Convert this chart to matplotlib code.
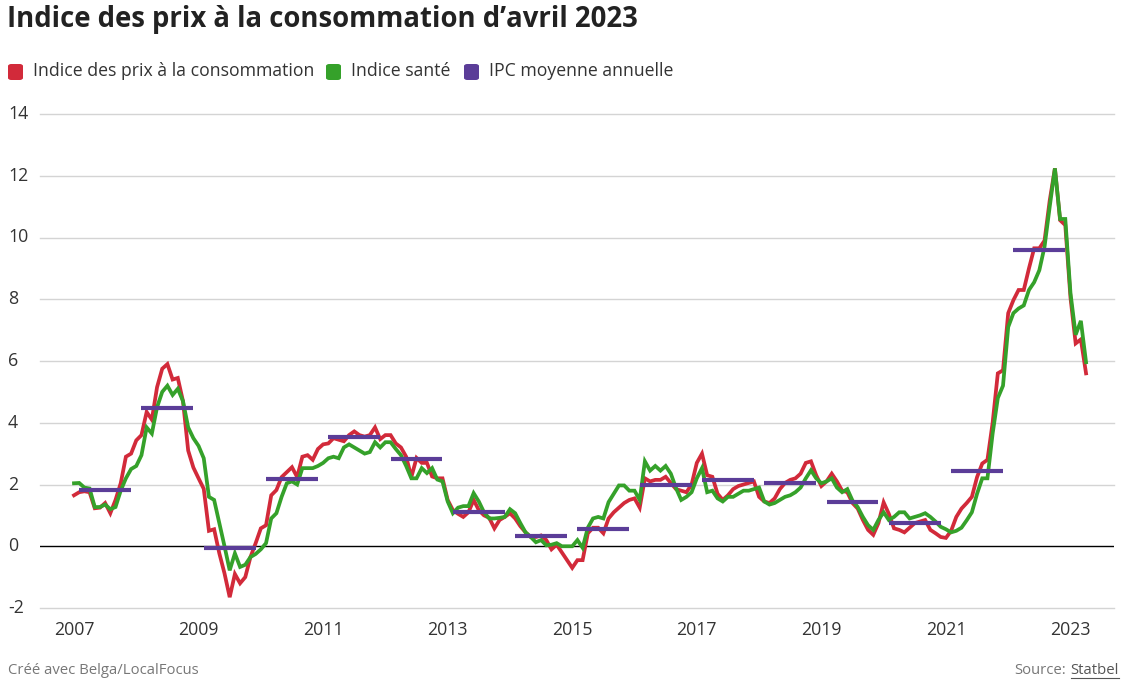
import numpy as np
import matplotlib
matplotlib.use("Agg")
import matplotlib.pyplot as plt
from matplotlib.patches import FancyBboxPatch
from matplotlib.lines import Line2D

plt.rcParams['font.family'] = ['Open Sans', 'DejaVu Sans']

# monthly year-on-year change (%), Jan 2007 .. Apr 2023
cpi = [
    1.65, 1.75, 1.78, 1.75, 1.23, 1.25, 1.4, 1.07, 1.5, 2.04, 2.9, 3.0,        # 2007
    3.43, 3.6, 4.35, 4.1, 5.15, 5.75, 5.9, 5.4, 5.45, 4.7, 3.1, 2.55,          # 2008
    2.2, 1.86, 0.5, 0.55, -0.23, -0.88, -1.65, -0.9, -1.2, -1.0, -0.35, 0.1,   # 2009
    0.58, 0.68, 1.65, 1.82, 2.24, 2.4, 2.56, 2.24, 2.9, 2.95, 2.8, 3.15,       # 2010
    3.3, 3.33, 3.5, 3.45, 3.4, 3.6, 3.72, 3.6, 3.55, 3.6, 3.85, 3.47,          # 2011
    3.6, 3.6, 3.33, 3.2, 2.9, 2.24, 2.86, 2.7, 2.7, 2.26, 2.2, 2.2,            # 2012
    1.5, 1.17, 1.05, 0.95, 1.1, 1.5, 1.17, 1.0, 0.92, 0.58, 0.85, 0.95,        # 2013
    1.07, 0.9, 0.65, 0.45, 0.3, 0.3, 0.35, 0.2, -0.1, 0.05, -0.2, -0.45,       # 2014
    -0.7, -0.45, -0.45, 0.42, 0.6, 0.6, 0.42, 0.9, 1.1, 1.25, 1.4, 1.5,        # 2015
    1.55, 1.25, 2.2, 2.1, 2.15, 2.15, 2.25, 2.05, 1.85, 1.8, 1.75, 2.0,        # 2016
    2.7, 3.0, 2.3, 2.25, 1.7, 1.5, 1.65, 1.85, 1.95, 2.0, 2.05, 2.1,           # 2017
    1.6, 1.45, 1.4, 1.55, 1.85, 2.05, 2.15, 2.2, 2.35, 2.7, 2.75, 2.3,         # 2018
    1.95, 2.1, 2.35, 2.1, 1.8, 1.75, 1.4, 1.22, 0.85, 0.53, 0.37, 0.75,        # 2019
    1.42, 1.05, 0.58, 0.53, 0.45, 0.6, 0.75, 0.8, 0.85, 0.53, 0.42, 0.3,       # 2020
    0.27, 0.5, 0.95, 1.22, 1.4, 1.6, 2.24, 2.68, 2.8, 4.0, 5.6, 5.7,           # 2021
    7.55, 7.97, 8.3, 8.3, 9.0, 9.65, 9.65, 9.9, 11.2, 12.24, 10.56, 10.4,      # 2022
    8.05, 6.57, 6.7, 5.6,                                                      # 2023
]

sante = [
    2.04, 2.05, 1.9, 1.87, 1.27, 1.27, 1.35, 1.2, 1.27, 1.8, 2.2, 2.5,         # 2007
    2.6, 2.95, 3.85, 3.65, 4.5, 5.0, 5.2, 4.9, 5.1, 4.7, 3.85, 3.5,            # 2008
    3.25, 2.85, 1.6, 1.5, 0.75, 0.0, -0.78, -0.23, -0.67, -0.6, -0.35, -0.25,  # 2009
    -0.1, 0.1, 0.9, 1.07, 1.6, 2.04, 2.1, 2.0, 2.53, 2.53, 2.53, 2.6,          # 2010
    2.7, 2.85, 2.9, 2.85, 3.2, 3.3, 3.2, 3.1, 3.0, 3.05, 3.37, 3.2,            # 2011
    3.37, 3.37, 3.15, 2.95, 2.6, 2.2, 2.2, 2.53, 2.37, 2.53, 2.16, 2.1,        # 2012
    1.45, 1.07, 1.25, 1.3, 1.3, 1.72, 1.45, 1.1, 0.9, 0.9, 0.92, 0.95,         # 2013
    1.2, 1.07, 0.75, 0.45, 0.3, 0.13, 0.2, 0.03, 0.05, 0.1, 0.0, 0.0,          # 2014
    0.0, 0.2, -0.05, 0.6, 0.9, 0.95, 0.9, 1.43, 1.7, 1.97, 1.97, 1.8,          # 2015
    1.8, 1.5, 2.75, 2.45, 2.6, 2.45, 2.6, 2.35, 1.88, 1.5, 1.6, 1.75,          # 2016
    2.2, 2.53, 1.75, 1.8, 1.55, 1.45, 1.6, 1.6, 1.7, 1.8, 1.8, 1.85,           # 2017
    1.9, 1.45, 1.35, 1.4, 1.5, 1.6, 1.65, 1.75, 1.9, 2.2, 2.46, 2.2,           # 2018
    2.04, 2.1, 2.2, 1.9, 1.75, 1.85, 1.48, 1.27, 0.95, 0.68, 0.53, 0.85,       # 2019
    1.1, 0.85, 0.95, 1.1, 1.1, 0.9, 0.95, 1.0, 1.07, 0.95, 0.8, 0.63,          # 2020
    0.55, 0.45, 0.5, 0.6, 0.84, 1.1, 1.7, 2.2, 2.2, 3.65, 4.8, 5.2,            # 2021
    7.1, 7.55, 7.7, 7.8, 8.3, 8.55, 8.94, 9.7, 11.0, 12.24, 10.6, 10.6,        # 2022
    8.2, 6.85, 7.3, 5.96,                                                      # 2023
]

years = list(range(2007, 2023))
moyenne = [1.82, 4.49, -0.05, 2.19, 3.53, 2.84, 1.11, 0.34,
           0.56, 1.97, 2.13, 2.05, 1.44, 0.74, 2.44, 9.59]

yticks = [-2, 0, 2, 4, 6, 8, 10, 12, 14]
xticks = [2007, 2009, 2011, 2013, 2015, 2017, 2019, 2021, 2023]

RED = '#d22a3a'
GREEN = '#35a12a'
PURPLE = '#5b3d98'
TXT = '#333333'

W, H = 1128, 687
fig = plt.figure(figsize=(W / 100, H / 100), dpi=100)


def px(x, y):
    return x / W, 1 - y / H


ax = fig.add_axes([40 / W, 1 - 608 / H, (1114 - 40) / W, (608 - 114) / H])
t = 2007 + np.arange(len(cpi)) / 12
ax.set_xlim(2007 + (40 - 74) / 62.28, 2007 + (1114 - 74) / 62.28)
ax.set_ylim(-2, 14)

for v in yticks:
    if v != 0:
        ax.axhline(v, color='#d4d4d4', lw=1, zorder=0, clip_on=False)
    ax.text(-32 / 1074, v, str(v), transform=ax.get_yaxis_transform(),
            ha='left', va='center', fontsize=12.8, color=TXT)
ax.axhline(0, color='black', lw=1, zorder=1)

for yr in xticks:
    ax.text(yr, -22 / 494, str(yr), transform=ax.get_xaxis_transform(),
            ha='center', va='center', fontsize=12.8, color=TXT)

ax.plot(t, cpi, color=RED, lw=2.7, solid_joinstyle='miter', zorder=2)
ax.plot(t, sante, color=GREEN, lw=2.7, solid_joinstyle='miter', zorder=3)
for yr, v in zip(years, moyenne):
    ax.plot([yr + 1 / 12, yr + 11 / 12], [v, v], color=PURPLE, lw=3,
            solid_capstyle='butt', zorder=4)

ax.set_xticks([])
ax.set_yticks([])
for s in ax.spines.values():
    s.set_visible(False)

# title
fig.text(*px(7, 20), 'Indice des prix à la consommation d’avril 2023',
         fontsize=19.8, fontweight='bold', color='#222222', ha='left', va='center')

# legend
items = [(8, RED, 'Indice des prix à la consommation'),
         (326, GREEN, 'Indice santé'),
         (464, PURPLE, 'IPC moyenne annuelle')]
for x0, c, lab in items:
    box = FancyBboxPatch(px(x0, 80), 15 / W, 16 / H,
                         boxstyle='round,pad=0,rounding_size=0.003',
                         transform=fig.transFigure, facecolor=c, edgecolor='none')
    fig.patches.append(box)
    fig.text(*px(x0 + 25, 71), lab, fontsize=12.7, color=TXT, ha='left', va='center')

# footer
fig.text(*px(8, 671), 'Créé avec Belga/LocalFocus', fontsize=10.7,
         color='#777777', ha='left', va='center')
src = fig.text(*px(1119, 671), 'Statbel', fontsize=10.7, color='#555555',
               ha='right', va='center')
fig.canvas.draw()
bb = src.get_window_extent()
fig.text(bb.x0 / W - 5 / W, 1 - 671 / H, 'Source:', fontsize=10.7,
         color='#777777', ha='right', va='center')
fig.lines.append(Line2D([bb.x0 / W, bb.x1 / W], [bb.y0 / H + 1 / H] * 2,
                        transform=fig.transFigure, color='#555555', lw=0.8))

fig.savefig('out.png', dpi=100)
